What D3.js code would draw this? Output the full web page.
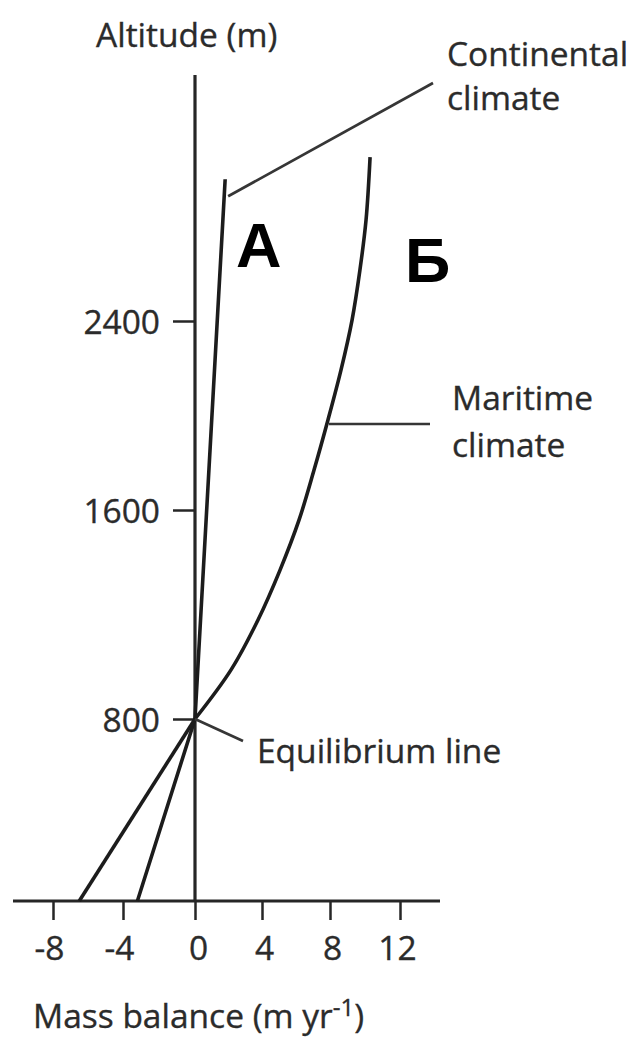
<!DOCTYPE html>
<html>
<head>
<meta charset="utf-8">
<script src="https://cdn.jsdelivr.net/npm/d3@7"></script>
<style>
  html, body { margin: 0; padding: 0; background: #fff; }
  svg { display: block; }
  .lbl { font-family: "Open Sans", sans-serif; font-size: 33.5px; fill: #2b2b2b; stroke: #2b2b2b; stroke-width: 0.35px; }
  .big { font-family: "Liberation Sans", Arial, sans-serif; font-weight: bold; font-size: 63px; fill: #000; }
</style>
</head>
<body>
<svg id="chart" width="643" height="1050"></svg>
<script>
// Mass balance (m/yr) against altitude (m) for two climate types
const massTicks = [-8, -4, 0, 4, 8, 12];
const massTickLabels = ["-8", "-4", "0", "4", "8", "12"];
const altitudeTicks = [800, 1600, 2400];
const altitudeTickLabels = ["800", "1600", "2400"];

const equilibriumAltitude = 800;

// Continental climate: steep, straight gradient
const continentalAltitude = [0, 800, 3000];
const continentalMass = [-3.2, 0, 1.8];

// Maritime climate: ablation zone straight, accumulation zone curved
const maritimeAltitude = [0, 800, 988, 1179, 1370, 1562, 1769, 1981, 2193, 2404, 2616, 2828, 3094];
const maritimeMass = [-6.5, 0, 2.15, 3.76, 5.06, 6.18, 7.06, 7.88, 8.63, 9.26, 9.71, 10.06, 10.29];

const svg = d3.select("#chart");

const x = d3.scaleLinear()
  .domain([-8, -4, 0, 4, 8, 12])
  .range([53, 123, 195, 262, 330, 400]);
const y = d3.scaleLinear()
  .domain([0, 800, 1600, 2400])
  .range([901, 719, 510, 321]);

const ink = "#262626";

// Axis lines
const x0 = x(0), yBase = y(0);
svg.append("line")
  .attr("x1", 13).attr("x2", 440)
  .attr("y1", yBase).attr("y2", yBase)
  .attr("stroke", ink).attr("stroke-width", 3.2);
svg.append("line")
  .attr("x1", x0).attr("x2", x0)
  .attr("y1", 75).attr("y2", yBase)
  .attr("stroke", ink).attr("stroke-width", 3.2);

// X axis ticks and labels
const xAxis = svg.append("g")
  .attr("transform", `translate(0,${yBase})`)
  .call(d3.axisBottom(x).tickValues(massTicks).tickSize(19)
    .tickFormat((d, i) => massTickLabels[i]));
xAxis.select(".domain").remove();
xAxis.selectAll(".tick line").attr("stroke", ink).attr("stroke-width", 2.5);
xAxis.selectAll(".tick text")
  .attr("class", "lbl")
  .attr("y", 59).attr("dy", 0)
  .attr("dx", (d) => d < 0 ? -4 : (d === 0 ? 3 : (d === 12 ? -3 : 2)));

// Y axis ticks and labels
const yAxis = svg.append("g")
  .attr("transform", `translate(${x0},0)`)
  .call(d3.axisLeft(y).tickValues(altitudeTicks).tickSize(22).tickPadding(13)
    .tickFormat((d, i) => altitudeTickLabels[i]));
yAxis.select(".domain").remove();
yAxis.selectAll(".tick line").attr("stroke", ink).attr("stroke-width", 2.5);
yAxis.selectAll(".tick text")
  .attr("class", "lbl")
  .attr("dy", "0.36em");

// Curves
const line = d3.line()
  .x(d => x(d.m))
  .y(d => y(d.a));

const continental = continentalAltitude.map((a, i) => ({ a, m: continentalMass[i] }));
const maritime = maritimeAltitude.map((a, i) => ({ a, m: maritimeMass[i] }));

const curveInk = "#1c1c1c";
svg.append("path")
  .attr("d", line.curve(d3.curveLinear)(continental))
  .attr("fill", "none").attr("stroke", curveInk).attr("stroke-width", 3.6);

const maritimeLow = maritime.filter(d => d.a <= equilibriumAltitude);
const maritimeHigh = maritime.filter(d => d.a >= equilibriumAltitude);
svg.append("path")
  .attr("d", line.curve(d3.curveLinear)(maritimeLow))
  .attr("fill", "none").attr("stroke", curveInk).attr("stroke-width", 3.6);
svg.append("path")
  .attr("d", line.curve(d3.curveCatmullRom.alpha(0.5))(maritimeHigh))
  .attr("fill", "none").attr("stroke", curveInk).attr("stroke-width", 3.6);

// Leader lines
const leader = "#363636";
const contTop = continental[continental.length - 1];
svg.append("line")
  .attr("x1", x(contTop.m) + 3).attr("y1", y(contTop.a) + 17)
  .attr("x2", 433).attr("y2", 83)
  .attr("stroke", leader).attr("stroke-width", 2.7);
svg.append("line")
  .attr("x1", 329).attr("y1", 424)
  .attr("x2", 430).attr("y2", 424)
  .attr("stroke", leader).attr("stroke-width", 2.7);
svg.append("line")
  .attr("x1", x(0)).attr("y1", y(equilibriumAltitude))
  .attr("x2", 243).attr("y2", 741)
  .attr("stroke", leader).attr("stroke-width", 2.7);

// Text labels
svg.append("text").attr("class", "lbl").attr("x", 96).attr("y", 47).text("Altitude (m)");
svg.append("text").attr("class", "lbl").attr("x", 447).attr("y", 66).text("Continental");
svg.append("text").attr("class", "lbl").attr("x", 447).attr("y", 110).text("climate");
svg.append("text").attr("class", "lbl").attr("x", 452).attr("y", 410).text("Maritime");
svg.append("text").attr("class", "lbl").attr("x", 452).attr("y", 457).text("climate");
svg.append("text").attr("class", "lbl").attr("x", 257).attr("y", 763).text("Equilibrium line");

const mb = svg.append("text").attr("class", "lbl").attr("x", 33).attr("y", 1028);
mb.append("tspan").text("Mass balance (m yr");
mb.append("tspan").attr("dy", -12).attr("font-size", 24).text("-1");
mb.append("tspan").attr("dy", 12).text(")");

svg.append("text").attr("class", "big").attr("x", 236).attr("y", 267).text("А");
svg.append("text").attr("class", "big").attr("x", 405).attr("y", 282).text("Б");
</script>
</body>
</html>
